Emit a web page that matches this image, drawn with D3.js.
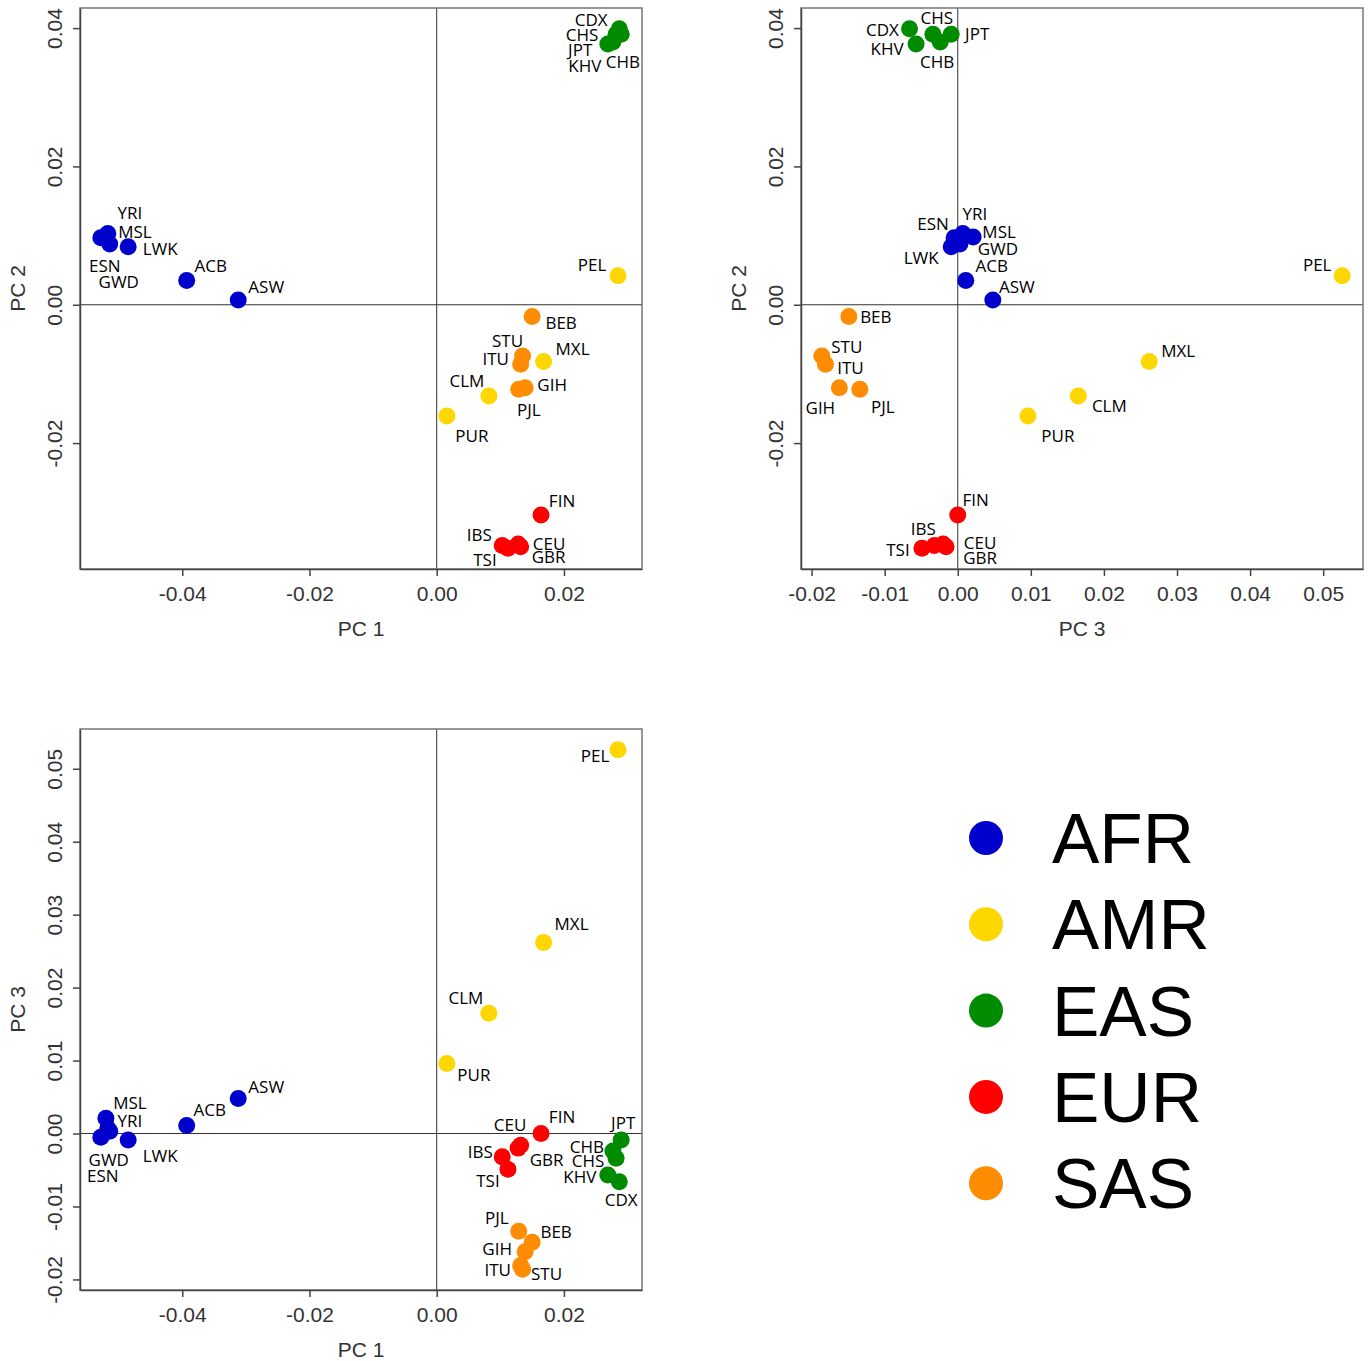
<!DOCTYPE html>
<html>
<head>
<meta charset="utf-8">
<script src="https://cdn.jsdelivr.net/npm/d3@7"></script>
<style>
  body { margin: 0; background: #fff; }
</style>
</head>
<body>
<div id="chart"></div>
<script>
// populations and their super-population
const pops = ['YRI', 'MSL', 'ESN', 'GWD', 'LWK', 'ACB', 'ASW',
    'PEL', 'MXL', 'CLM', 'PUR',
    'CDX', 'CHS', 'JPT', 'KHV', 'CHB',
    'FIN', 'CEU', 'GBR', 'IBS', 'TSI',
    'BEB', 'STU', 'ITU', 'GIH', 'PJL'];
const superPop = ['AFR', 'AFR', 'AFR', 'AFR', 'AFR', 'AFR', 'AFR',
    'AMR', 'AMR', 'AMR', 'AMR',
    'EAS', 'EAS', 'EAS', 'EAS', 'EAS',
    'EUR', 'EUR', 'EUR', 'EUR', 'EUR',
    'SAS', 'SAS', 'SAS', 'SAS', 'SAS'];

// principal component scores
const pc1 = [-0.0517, -0.0520, -0.0528, -0.0514, -0.0485, -0.0393, -0.0312,
    0.0285, 0.0168, 0.0082, 0.0016,
    0.0287, 0.0282, 0.0290, 0.0269, 0.0277,
    0.0164, 0.0128, 0.0132, 0.0103, 0.0112,
    0.0150, 0.0135, 0.0132, 0.0139, 0.0129];
const pc2 = [0.0103, 0.0098, 0.0097, 0.0088, 0.0084, 0.0035, 0.0007,
    0.0042, -0.0082, -0.0132, -0.0161,
    0.0399, 0.0391, 0.0391, 0.0377, 0.0380,
    -0.0304, -0.0346, -0.0350, -0.0348, -0.0352,
    -0.0017, -0.0074, -0.0086, -0.0120, -0.0122];
const pc3 = [0.0007, 0.0021, -0.0005, 0.0003, -0.0009, 0.0011, 0.0048,
    0.0526, 0.0262, 0.0165, 0.0096,
    -0.0066, -0.0034, -0.0009, -0.0057, -0.0024,
    0.0000, -0.0020, -0.0016, -0.0032, -0.0049,
    -0.0149, -0.0186, -0.0181, -0.0162, -0.0134];

const groups = ['AFR', 'AMR', 'EAS', 'EUR', 'SAS'];
const groupColors = ['#0000cd', '#ffd700', '#008b00', '#ff0000', '#ff8c00'];

const pc1Ticks = [-0.04, -0.02, 0.00, 0.02];
const pc2Ticks = [-0.02, 0.00, 0.02, 0.04];
const pc3Ticks = [-0.02, -0.01, 0.00, 0.01, 0.02, 0.03, 0.04, 0.05];

// label placement (pixels from the point), one table per panel
const offsPC1PC2 = {
    YRI: [22, -20], MSL: [29, -5], LWK: [32, 2], ESN: [4, 28], GWD: [9, 38], ACB: [24, -14], ASW: [28, -13],
    PEL: [-26, -11], MXL: [29, -12], CLM: [-22, -15], PUR: [25, 20],
    CDX: [-28, -9], CHS: [-34, 1], JPT: [-41, 16], KHV: [-23, 22], CHB: [10, 20],
    FIN: [21, -14], CEU: [31, 0], GBR: [28, 10], IBS: [-23, -10], TSI: [-23, 12],
    BEB: [29, 7], STU: [-15, -15], ITU: [-25, -5], GIH: [27, -3], PJL: [10, 21]
};
const offsPC3PC2 = {
    YRI: [12, -19], MSL: [26, -5], LWK: [-30, 11], ESN: [-21, -14], GWD: [38, 5], ACB: [26, -14], ASW: [24, -13],
    PEL: [-25, -11], MXL: [29, -10], CLM: [31, 10], PUR: [30, 20],
    CDX: [-27, 1], CHS: [4, -16], JPT: [26, 0], KHV: [-29, 5], CHB: [-3, 20],
    FIN: [18, -15], CEU: [37, -1], GBR: [34, 11], IBS: [-11, -16], TSI: [-24, 2],
    BEB: [27, 1], STU: [25, -9], ITU: [25, 4], GIH: [-19, 20], PJL: [23, 18]
};
const offsPC1PC3 = {
    YRI: [22, -7], MSL: [24, -15], LWK: [32, 16], ESN: [2, 39], GWD: [-1, 29], ACB: [23, -15], ASW: [28, -11],
    PEL: [-23, 6], MXL: [28, -18], CLM: [-23, -15], PUR: [27, 12],
    CDX: [2, 18], CHS: [-28, 3], JPT: [2, -17], KHV: [-28, 2], CHB: [-26, -4],
    FIN: [21, -16], CEU: [-8, -23], GBR: [26, 15], IBS: [-22, -5], TSI: [-20, 12],
    BEB: [24, -10], STU: [24, 5], ITU: [-23, 4], GIH: [-28, -3], PJL: [-22, -13]
};

const data = pops.map((p, i) => ({pop: p, group: superPop[i], pc1: pc1[i], pc2: pc2[i], pc3: pc3[i]}));
const color = d3.scaleOrdinal().domain(groups).range(groupColors);

const width = 1371, height = 1361;
const plotW = 562, plotH = 561;
const tickFont = 'Liberation Sans, Arial, sans-serif';
const labelFont = 'Open Sans, Noto Sans, sans-serif';

const svg = d3.select('#chart').append('svg')
    .attr('width', width)
    .attr('height', height);

// R pads the data range by 4% on each side
function rDomain(vals) {
    const [lo, hi] = d3.extent(vals);
    const pad = (hi - lo) * 0.04;
    return [lo - pad, hi + pad];
}

const fmt = d => d.toFixed(2);

function drawPanel(cfg) {
    const g = svg.append('g')
        .attr('transform', `translate(${cfg.left}, ${cfg.top})`);

    const x = d3.scaleLinear().domain(rDomain(data.map(d => d[cfg.x]))).range([0, plotW]);
    const y = d3.scaleLinear().domain(rDomain(data.map(d => d[cfg.y]))).range([plotH, 0]);

    // zero lines
    g.append('line')
        .attr('x1', 0).attr('x2', plotW)
        .attr('y1', y(0)).attr('y2', y(0))
        .attr('stroke', '#333').attr('stroke-width', 1);
    g.append('line')
        .attr('x1', x(0)).attr('x2', x(0))
        .attr('y1', 0).attr('y2', plotH)
        .attr('stroke', '#333').attr('stroke-width', 1);

    g.append('rect')
        .attr('width', plotW)
        .attr('height', plotH)
        .attr('fill', 'none')
        .attr('stroke', '#777')
        .attr('stroke-width', 1.5);

    const xAxis = g.append('g')
        .attr('transform', `translate(0, ${plotH})`)
        .call(d3.axisBottom(x).tickValues(cfg.xTicks).tickFormat(fmt)
            .tickSizeInner(7).tickSizeOuter(0).tickPadding(10));
    xAxis.select('.domain').attr('stroke', '#444').attr('stroke-width', 1.5);
    xAxis.selectAll('.tick line').attr('stroke', '#444').attr('stroke-width', 1.5);
    xAxis.selectAll('text')
        .attr('fill', '#333')
        .style('font-family', tickFont)
        .style('font-size', '21px');

    const yAxis = g.append('g')
        .call(d3.axisLeft(y).tickValues(cfg.yTicks).tickFormat(fmt)
            .tickSizeInner(7).tickSizeOuter(0));
    yAxis.select('.domain').attr('stroke', '#444').attr('stroke-width', 1.5);
    yAxis.selectAll('.tick line').attr('stroke', '#444').attr('stroke-width', 1.5);
    yAxis.selectAll('text')
        .attr('transform', 'rotate(-90)')
        .attr('x', 0)
        .attr('y', -18)
        .attr('dy', 0)
        .attr('text-anchor', 'middle')
        .attr('fill', '#333')
        .style('font-family', tickFont)
        .style('font-size', '21px');

    // axis titles
    g.append('text')
        .attr('x', plotW / 2)
        .attr('y', plotH + 60)
        .attr('dy', '0.35em')
        .attr('text-anchor', 'middle')
        .attr('fill', '#333')
        .style('font-family', tickFont)
        .style('font-size', '21px')
        .text(cfg.xTitle);
    g.append('text')
        .attr('transform', `translate(-62, ${plotH / 2}) rotate(-90)`)
        .attr('dy', '0.35em')
        .attr('text-anchor', 'middle')
        .attr('fill', '#333')
        .style('font-family', tickFont)
        .style('font-size', '21px')
        .text(cfg.yTitle);

    g.append('g')
        .selectAll('circle')
        .data(data)
        .join('circle')
        .attr('cx', d => x(d[cfg.x]))
        .attr('cy', d => y(d[cfg.y]))
        .attr('r', 8.5)
        .attr('fill', d => color(d.group));

    g.append('g')
        .selectAll('text')
        .data(data)
        .join('text')
        .attr('x', d => x(d[cfg.x]) + cfg.offs[d.pop][0])
        .attr('y', d => y(d[cfg.y]) + cfg.offs[d.pop][1])
        .attr('dy', '0.35em')
        .attr('text-anchor', 'middle')
        .attr('fill', '#000')
        .style('font-family', labelFont)
        .style('font-size', '17px')
        .text(d => d.pop);
}

drawPanel({x: 'pc1', y: 'pc2', xTitle: 'PC 1', yTitle: 'PC 2', left: 80, top: 8,
    xTicks: pc1Ticks, yTicks: pc2Ticks, offs: offsPC1PC2});
drawPanel({x: 'pc3', y: 'pc2', xTitle: 'PC 3', yTitle: 'PC 2', left: 801, top: 8,
    xTicks: pc3Ticks, yTicks: pc2Ticks, offs: offsPC3PC2});
drawPanel({x: 'pc1', y: 'pc3', xTitle: 'PC 1', yTitle: 'PC 3', left: 80, top: 729,
    xTicks: pc1Ticks, yTicks: pc3Ticks, offs: offsPC1PC3});

// legend
const legend = svg.append('g')
    .attr('transform', 'translate(986, 838)');

const item = legend.selectAll('g')
    .data(groups)
    .join('g')
    .attr('transform', (d, i) => `translate(0, ${i * 86.3})`);

item.append('circle')
    .attr('r', 17)
    .attr('fill', d => color(d));

item.append('text')
    .attr('x', 66)
    .attr('y', 25)
    .attr('fill', '#000')
    .style('font-family', tickFont)
    .style('font-size', '71px')
    .text(d => d);
</script>
</body>
</html>
